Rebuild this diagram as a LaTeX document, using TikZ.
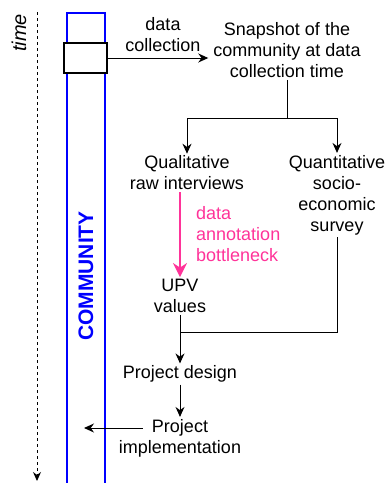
\documentclass[tikz,border=0pt]{standalone}
\usepackage{fontspec}
\setmainfont{Liberation Sans}
\usetikzlibrary{arrows.meta}
\definecolor{annot}{RGB}{255,51,153}
\definecolor{commblue}{RGB}{0,0,255}

\begin{document}
\begin{tikzpicture}[x=1pt,y=-1pt,
  txt/.style={align=center, inner sep=2pt, font=\fontsize{18}{21}\selectfont},
  flow/.style={-{Stealth[length=10pt,width=9pt]}, line width=1pt}]

\useasboundingbox (0,0) rectangle (387,483);

% time axis:
\coordinate (tstart) at (37,12);
\coordinate (tend) at (37,481);
\draw[-{Stealth[length=9pt,width=8pt]}, dashed, line width=1pt] (tstart) -- (tend);
\node[txt, rotate=90, font=\fontsize{20}{22}\selectfont\itshape] (time) at (19,33) {time};

% community column:
\draw[commblue, line width=1.1pt] (67,483) -- (67,13) -- (105,13) -- (105,483);
\node[txt, rotate=90, text=commblue, font=\fontsize{21}{22}\selectfont\bfseries] (community) at (86,276) {COMMUNITY};
\node[draw, fill=white, line width=1.2pt, minimum width=43, minimum height=30, inner sep=0pt] (box) at (85.5,58) {};

% texts:
\node[txt] (dc) at (163,35) {data\\collection};
\node[txt] (snap) at (287,50) {Snapshot of the\\community at data\\collection time};
\node[txt] (qual) at (187,173) {Qualitative\\raw interviews};
\node[txt] (quant) at (337,195) {Quantitative\\socio-\\economic\\survey};
\node[txt, text=annot, align=left, anchor=west] (bottleneck) at (194,234) {data\\annotation\\bottleneck};
\node[txt] (upv) at (180,296) {UPV\\values};
\node[txt] (design) at (180,374) {Project design};
\node[txt] (impl) at (180,438) {Project\\implementation};

\coordinate (split) at (287,118);
\coordinate (merge) at (180,332);
\coordinate (commpt) at (84,428);

% connectors:
\draw[flow] (box.east) -- ([xshift=-3pt]snap.west |- box.east);
\draw[line width=1pt] (snap.south) -- (split);
\draw[flow] (split) -| (qual.north);
\draw[flow] (split) -| (quant.north);
\draw[-{Stealth[length=14pt,width=14pt]}, annot, line width=2pt] (qual.south -| upv) -- (upv.north);
\draw[line width=1pt] (quant.south) |- (merge);
\draw[flow] (upv.south) -- (design.north);
\draw[flow] (design.south) -- (impl.north);
\draw[flow] ([xshift=26pt]impl.west |- commpt) -- (commpt);

\end{tikzpicture}
\end{document}
